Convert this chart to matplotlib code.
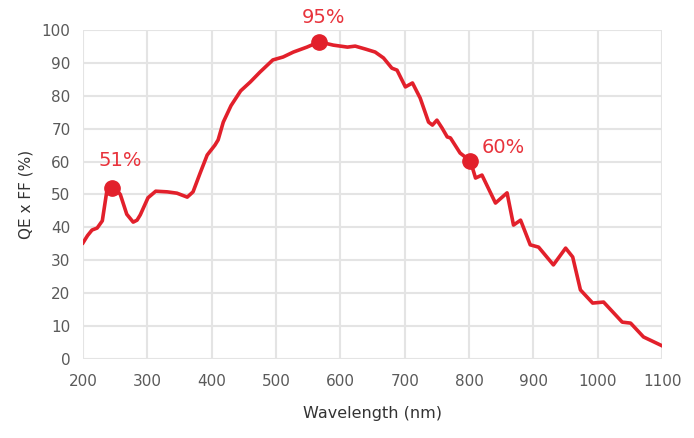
import matplotlib
matplotlib.use("Agg")
import matplotlib.pyplot as plt

wavelength = [200, 207, 214, 222, 230, 237, 245, 252, 258, 268, 278, 284, 289, 301, 313, 331, 346, 362, 371,
              382, 393, 405, 410, 418, 430, 445, 460, 475, 495, 511, 527, 548, 567, 589, 611,
              623, 639, 654, 667, 680, 688, 701, 712, 724, 737, 743, 750, 758, 766, 771, 786,
              802, 810, 820, 841, 859, 869, 880, 895, 908, 931, 950, 961, 973, 992, 1009,
              1038, 1051, 1071, 1100]
qe_ff = [35.3, 37.5, 39.2, 39.8, 42, 51, 52, 51.5, 50, 44, 41.6, 42.2, 43.8, 49, 51, 50.8, 50.4, 49.2, 50.8,
         56.5, 62, 65, 66.6, 72, 77, 81.5, 84.2, 87.2, 90.9, 91.8, 93.3, 94.8, 96.4, 95.4, 94.8,
         95.1, 94.2, 93.3, 91.5, 88.4, 87.8, 82.7, 83.9, 79.3, 72, 71.1, 72.6, 70.2, 67.5, 67.2, 62.6,
         60.2, 55, 55.9, 47.4, 50.5, 40.7, 42.2, 34.7, 34, 28.6, 33.7, 31, 21, 17, 17.3,
         11.2, 10.9, 6.7, 4]

marker_x = [245, 567, 802]
marker_y = [52, 96.4, 60.2]
marker_labels = ["51%", "95%", "60%"]

x_ticks = [200, 300, 400, 500, 600, 700, 800, 900, 1000, 1100]
y_ticks = [0, 10, 20, 30, 40, 50, 60, 70, 80, 90, 100]

red = "#e2202b"
fig = plt.figure(figsize=(6.94, 4.38), dpi=100)
ax = fig.add_axes([0.1196, 0.1804, 0.8345, 0.7511])
ax.plot(wavelength, qe_ff, color=red, lw=2.6, solid_joinstyle="round", zorder=3)
ax.plot(marker_x, marker_y, "o", color=red, ms=11, zorder=4)

offsets = [(6, 13), (3, 11), (8, 3)]
has = ["center", "center", "left"]
for x, y, lab, off, ha in zip(marker_x, marker_y, marker_labels, offsets, has):
    ax.annotate(lab, (x, y), xytext=off, textcoords="offset points", ha=ha, va="bottom",
                color="#e8333c", fontsize=14)

ax.set_xlim(200, 1100)
ax.set_ylim(0, 100)
ax.set_xticks(x_ticks)
ax.set_yticks(y_ticks)
ax.grid(True, color="#e4e4e4", lw=1.5)
ax.set_axisbelow(True)
for s in ax.spines.values():
    s.set_visible(False)
ax.tick_params(axis="y", length=0, labelsize=11, colors="#5a5a5a", pad=9)
ax.tick_params(axis="x", length=0, labelsize=11, colors="#5a5a5a", pad=11)
ax.set_xlabel("Wavelength (nm)", fontsize=11.5, color="#333333", labelpad=12)
ax.set_ylabel("QE x FF (%)", fontsize=11, color="#333333", labelpad=6)
fig.savefig("out.png", dpi=100)
